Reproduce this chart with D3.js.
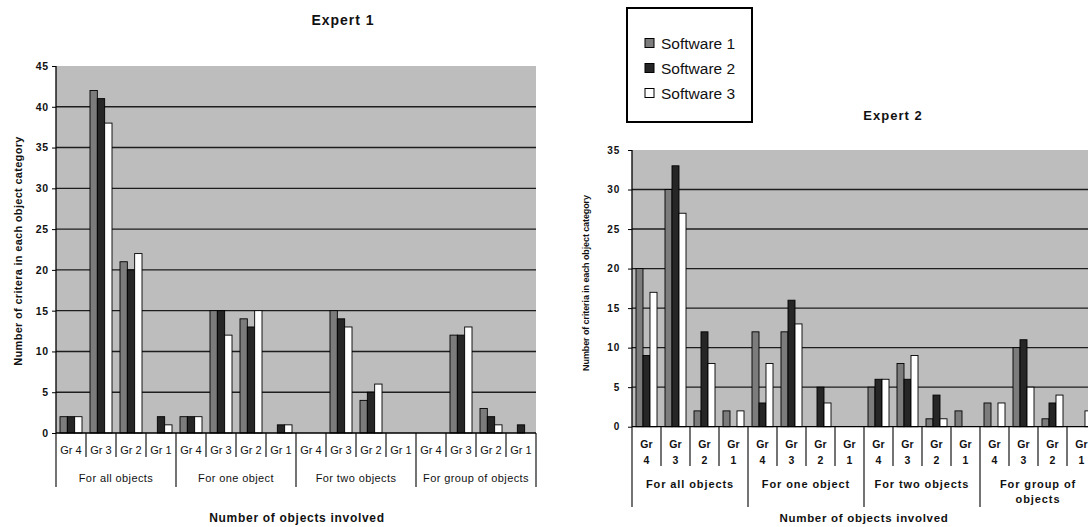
<!DOCTYPE html>
<html>
<head>
<meta charset="utf-8">
<script src="https://cdn.jsdelivr.net/npm/d3@7"></script>
<style>
  html, body { margin: 0; padding: 0; background: #fff; }
  svg { display: block; font-family: "Liberation Sans", Arial, sans-serif; }
</style>
</head>
<body>
<svg id="chart" width="1088" height="527"></svg>
<script>
// ---- data ----
const groups = ["For all objects", "For one object", "For two objects", "For group of objects"];
const grades = ["4", "3", "2", "1"];
const seriesNames = ["Software 1", "Software 2", "Software 3"];

const expert1Software1 = [2, 42, 21, 0,  2, 15, 14, 0,  0, 15, 4, 0,  0, 12, 3, 0];
const expert1Software2 = [2, 41, 20, 2,  2, 15, 13, 1,  0, 14, 5, 0,  0, 12, 2, 1];
const expert1Software3 = [2, 38, 22, 1,  2, 12, 15, 1,  0, 13, 6, 0,  0, 13, 1, 0];

const expert2Software1 = [20, 30, 2, 2,  12, 12, 0, 0,  5, 8, 1, 2,  3, 10, 1, 0];
const expert2Software2 = [9, 33, 12, 0,  3, 16, 5, 0,  6, 6, 4, 0,  0, 11, 3, 0];
const expert2Software3 = [17, 27, 8, 2,  8, 13, 3, 0,  6, 9, 1, 0,  3, 5, 4, 2];

const expert1Ticks = [0, 5, 10, 15, 20, 25, 30, 35, 40, 45];
const expert2Ticks = [0, 5, 10, 15, 20, 25, 30, 35];

const colors = ["#7c7c7c", "#262626", "#ffffff"];
const plotBg = "#bdbdbd";

const svg = d3.select("#chart");

function drawChart(cfg) {
  const g = svg.append("g");
  const n = groups.length * grades.length;
  const cats = d3.range(n);
  const x = d3.scaleBand().domain(cats).range([cfg.left, cfg.left + cfg.cell * n]).padding(0);
  const y = d3.scaleLinear().domain([0, cfg.max]).range([cfg.bottom, cfg.top]);
  const x1 = d3.scaleBand().domain(seriesNames).range([cfg.barPad, cfg.cell - cfg.barPad]).padding(0);

  // plot background
  g.append("rect")
    .attr("x", x.range()[0]).attr("y", y(cfg.max))
    .attr("width", x.range()[1] - x.range()[0]).attr("height", y(0) - y(cfg.max))
    .attr("fill", plotBg);

  // gridlines
  g.selectAll(".grid").data(cfg.ticks.filter(t => t > 0 && t < cfg.max)).join("line")
    .attr("x1", x.range()[0]).attr("x2", x.range()[1])
    .attr("y1", d => y(d)).attr("y2", d => y(d))
    .attr("stroke", "#1e1e1e").attr("stroke-width", 1.4);

  // bars
  const rows = cats.map(i => ({ i, vals: cfg.series.map(s => s[i]) }));
  const cg = g.selectAll(".cat").data(rows).join("g")
    .attr("transform", d => `translate(${x(d.i)},0)`);
  cg.selectAll("rect").data(d => d.vals.map((v, k) => ({ v, k })).filter(e => e.v > 0)).join("rect")
    .attr("x", e => x1(seriesNames[e.k]))
    .attr("width", x1.bandwidth())
    .attr("y", e => y(e.v))
    .attr("height", e => y(0) - y(e.v))
    .attr("fill", e => colors[e.k])
    .attr("stroke", "#000").attr("stroke-width", 0.9);

  // y axis
  const ya = g.append("g").attr("transform", `translate(${x.range()[0]},0)`)
    .call(d3.axisLeft(y).tickValues(cfg.ticks).tickSize(4).tickPadding(cfg.tickPad).tickFormat(d3.format("d")));
  ya.select(".domain").attr("stroke", "#000").attr("stroke-width", 1.3).attr("d", `M0,${y(0)}V${y(cfg.max)}`);
  ya.selectAll(".tick line").attr("stroke", "#000");
  ya.selectAll(".tick text").attr("font-size", cfg.tickFont).attr("font-weight", "bold")
    .attr("letter-spacing", cfg.tickSpacing).attr("fill", "#111");

  // x axis baseline
  g.append("line").attr("x1", x.range()[0]).attr("x2", x.range()[1])
    .attr("y1", y(0)).attr("y2", y(0)).attr("stroke", "#000").attr("stroke-width", 1.3);

  // separators
  const bounds = d3.range(n + 1);
  g.selectAll(".sep").data(bounds).join("line")
    .attr("x1", b => x.range()[0] + b * x.step()).attr("x2", b => x.range()[0] + b * x.step())
    .attr("y1", y(0))
    .attr("y2", b => (b % grades.length === 0) ? cfg.groupLineEnd : cfg.cellLineEnd)
    .attr("stroke", "#000").attr("stroke-width", 1.1);

  // grade labels
  const lab = g.selectAll(".glab").data(cats).join("text")
    .attr("text-anchor", "middle")
    .attr("font-size", cfg.gradeFont).attr("font-weight", cfg.gradeWeight)
    .attr("fill", "#111");
  if (cfg.twoLineGrades) {
    lab.each(function(i) {
      const t = d3.select(this);
      const cx = x(i) + x.bandwidth() / 2;
      t.append("tspan").attr("x", cx).attr("y", cfg.gradeY).text("Gr");
      t.append("tspan").attr("x", cx).attr("y", cfg.gradeY2).text(grades[i % grades.length]);
    });
  } else {
    lab.attr("x", i => x(i) + x.bandwidth() / 2).attr("y", cfg.gradeY)
      .attr("letter-spacing", cfg.gradeSpacing)
      .text(i => "Gr " + grades[i % grades.length]);
  }

  // group labels
  const glab = g.selectAll(".grp").data(groups).join("text")
    .attr("text-anchor", "middle")
    .attr("font-size", cfg.groupFont).attr("font-weight", cfg.groupWeight)
    .attr("letter-spacing", cfg.groupSpacing)
    .attr("fill", "#111");
  glab.each(function(name, j) {
    const t = d3.select(this);
    const cx = x.range()[0] + (j + 0.5) * grades.length * x.step();
    const lines = cfg.groupWrap[j] || [name];
    lines.forEach((ln, k) => {
      t.append("tspan").attr("x", cx).attr("y", cfg.groupY + k * cfg.groupLineH).text(ln);
    });
  });

  // titles
  g.append("text").attr("x", cfg.titleX).attr("y", cfg.titleY).attr("text-anchor", "middle")
    .attr("font-size", cfg.titleFont).attr("font-weight", "bold").attr("letter-spacing", 1)
    .attr("fill", "#111").text(cfg.title);
  g.append("text").attr("x", cfg.xTitleX).attr("y", cfg.xTitleY).attr("text-anchor", "middle")
    .attr("font-size", cfg.xTitleFont).attr("font-weight", "bold").attr("letter-spacing", cfg.xTitleSpacing)
    .attr("fill", "#111").text("Number of objects involved");
  g.append("text")
    .attr("transform", `translate(${cfg.yTitleX},${cfg.yTitleY}) rotate(-90)`)
    .attr("text-anchor", "middle").attr("dominant-baseline", "middle")
    .attr("font-size", cfg.yTitleFont).attr("font-weight", "bold")
    .attr("letter-spacing", cfg.yTitleSpacing)
    .attr("fill", "#111").text(cfg.yTitle);
}

drawChart({
  series: [expert1Software1, expert1Software2, expert1Software3],
  max: 45, ticks: expert1Ticks,
  left: 56, cell: 30, barPad: 4,
  top: 66, bottom: 433,
  tickFont: 10.5, tickSpacing: 0.8, tickPad: 3,
  cellLineEnd: 457, groupLineEnd: 487,
  gradeFont: 11, gradeWeight: "normal", gradeSpacing: 0, twoLineGrades: false, gradeY: 454,
  groupFont: 11, groupWeight: "normal", groupSpacing: 0.4, groupY: 482, groupLineH: 14, groupWrap: [],
  title: "Expert 1", titleX: 343, titleY: 25, titleFont: 14,
  xTitleX: 297, xTitleY: 522, xTitleFont: 12, xTitleSpacing: 0.7,
  yTitle: "Number of critera in each object category", yTitleX: 19, yTitleY: 251, yTitleFont: 11, yTitleSpacing: 0.3
});

drawChart({
  series: [expert2Software1, expert2Software2, expert2Software3],
  max: 35, ticks: expert2Ticks,
  left: 632, cell: 29, barPad: 4,
  top: 150, bottom: 426.7,
  tickFont: 10, tickSpacing: 0.8, tickPad: 8,
  cellLineEnd: 466, groupLineEnd: 507,
  gradeFont: 10.5, gradeWeight: "bold", twoLineGrades: true, gradeY: 448, gradeY2: 464,
  groupFont: 11, groupWeight: "bold", groupSpacing: 0.9, groupY: 488, groupLineH: 15,
  groupWrap: [null, null, null, ["For group of", "objects"]],
  title: "Expert 2", titleX: 893, titleY: 120, titleFont: 13,
  xTitleX: 864, xTitleY: 522, xTitleFont: 11.5, xTitleSpacing: 0.7,
  yTitle: "Number of criteria in each object category", yTitleX: 587, yTitleY: 283, yTitleFont: 9, yTitleSpacing: -0.1
});

// legend
const leg = svg.append("g");
leg.append("rect").attr("x", 627).attr("y", 8).attr("width", 125).attr("height", 114)
  .attr("fill", "#fff").attr("stroke", "#000").attr("stroke-width", 2);
seriesNames.forEach((name, k) => {
  const cy = 43 + k * 25;
  leg.append("rect").attr("x", 645).attr("y", cy - 4.5).attr("width", 9).attr("height", 9)
    .attr("fill", colors[k]).attr("stroke", "#000").attr("stroke-width", 1);
  leg.append("text").attr("x", 661).attr("y", cy).attr("dominant-baseline", "central")
    .attr("font-size", 15.5).attr("fill", "#111").text(name);
});
</script>
</body>
</html>
